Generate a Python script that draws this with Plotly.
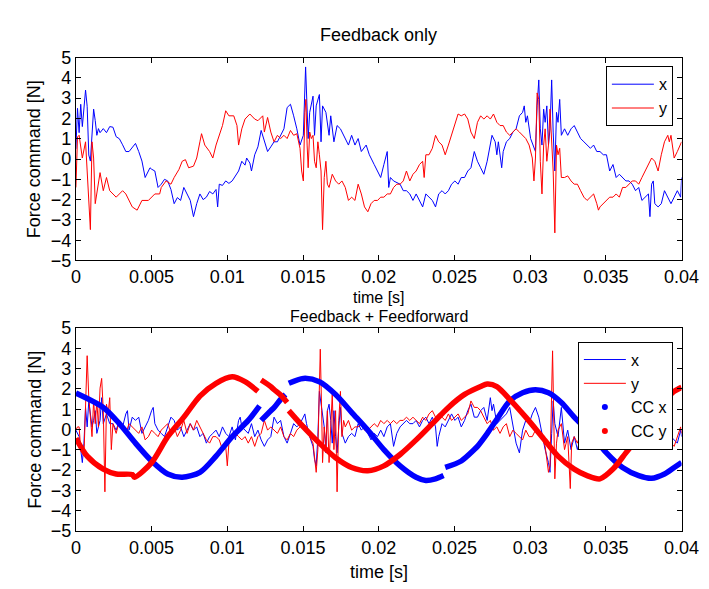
import plotly.graph_objects as go

# ---------------- data (time in ms, force in N) ----------------
TOP_X_T = [0, 0.106, 0.213, 0.319, 0.426, 0.638, 0.745, 0.851, 0.957, 1.064,
           1.170, 1.277, 1.383, 1.489, 1.596, 1.809, 2.021, 2.234, 2.447, 2.660,
           2.872, 3.085, 3.298, 3.511, 3.723, 3.936, 4.149, 4.362, 4.574, 4.787,
           4.894, 5.0, 5.213, 5.426, 5.638, 5.851, 6.064, 6.277, 6.489, 6.702,
           6.915, 7.128, 7.340, 7.553, 7.766, 7.979, 8.191, 8.404, 8.617, 8.830,
           9.043, 9.255, 9.362, 9.468, 9.681, 9.894, 10.106, 10.319, 10.745, 10.957,
           11.170, 11.277, 11.489, 11.596, 11.809, 12.021, 12.234, 12.447, 12.660, 12.872,
           13.085, 13.31, 13.52, 13.74, 13.95, 14.17, 14.38, 14.59, 14.80, 15.02,
           15.17, 15.23, 15.34, 15.44, 15.66, 15.76, 15.87, 16.08, 16.19, 16.29,
           16.51, 16.72, 16.83, 17.04, 17.25, 17.47, 17.68, 18.00, 18.21, 18.43,
           18.64, 18.85, 19.17, 19.38, 19.70, 19.92, 20.13, 20.34, 20.56, 20.66,
           20.77, 20.98, 21.41, 21.62, 21.83, 22.05, 22.26, 22.47, 22.69, 22.90,
           23.11, 23.32, 23.54, 23.75, 23.96, 24.18, 24.39, 24.60, 24.81, 25.03,
           25.24, 25.45, 25.67, 25.88, 26.09, 26.31, 26.52, 26.73, 26.94, 27.16,
           27.37, 27.48, 27.69, 27.80, 27.90, 28.12, 28.22, 28.43, 28.65, 28.86,
           29.07, 29.29, 29.50, 29.61, 29.71, 29.82, 30.03, 30.25, 30.35, 30.46,
           30.57, 30.67, 30.78, 30.89, 30.99, 31.10, 31.21, 31.31, 31.42, 31.52,
           31.63, 31.74, 31.84, 31.95, 32.06, 32.27, 32.48, 32.70, 32.91, 33.12,
           33.33, 33.55, 33.76, 33.98, 34.19, 34.40, 34.61, 34.83, 35.04, 35.25,
           35.47, 35.68, 35.89, 36.10, 36.32, 36.53, 36.74, 36.96, 37.17, 37.38,
           37.60, 37.81, 37.91, 38.02, 38.13, 38.23, 38.45, 38.66, 38.87, 39.09,
           39.30, 39.51, 39.72, 39.94, 40.0]
TOP_X_V = [0.5, 2.5, 1.3, 2.7, 1.6, 3.4, 2.6, 0.2, -0.1, 1.3,
           2.46, 1.9, 1.17, 1.5, 1.3, 1.5, 1.3, 1.6, 1.57, 1.1,
           1.0, 0.7, 0.37, 0.37, 0.6, 0.77, 0.37, -0.1, -0.91, -0.6,
           -0.43, -0.5, -0.59, -1.40, -1.24, -1.0, -1.08, -1.5, -2.20, -1.9,
           -2.04, -1.40, -1.7, -2.04, -2.84, -2.2, -1.72, -2.0, -1.88, -1.6,
           -1.72, -1.5, -2.36, -1.24, -1.3, -1.08, -1.2, -1.08, -0.59, -0.11,
           -0.3, 0.05, -0.2, -0.59, 0.21, 0.6, 1.41, 0.9, 0.37, 0.6,
           0.85, 0.85, 1.17, 1.49, 2.54, 2.70, 2.13, 1.49, 0.69, 1.17,
           4.54, 3.42, 1.01, 2.30, 3.10, 1.17, 2.62, 3.18, 0.85, 2.62,
           2.30, 1.17, 2.13, 0.85, 1.65, 1.49, 1.17, 0.69, 1.17, 0.69,
           1.01, 0.37, 0.69, 0.21, -0.27, -0.59, -0.91, -0.27, 0.37, -1.40,
           -0.91, -1.08, -1.24, -1.56, -1.56, -1.72, -2.04, -1.72, -2.04, -2.36,
           -1.72, -1.88, -2.04, -2.36, -1.72, -1.56, -1.72, -1.56, -1.24, -1.08,
           -1.24, -0.91, -0.91, -0.59, -0.43, 0.37, -0.11, -0.43, -0.75, -0.11,
           0.69, 1.17, 0.85, 0.21, 0.85, -0.43, 0.37, 0.85, 1.01, 1.33,
           1.49, 2.13, 2.30, 2.62, 1.81, 2.13, 1.01, 0.53, 0.37, 2.62,
           3.90, 1.49, 0.69, 2.46, 1.81, 2.62, 0.69, 1.49, 3.90, 1.33,
           -0.59, 2.30, 1.81, 2.94, 1.17, 1.49, 1.17, 1.49, 1.65, 1.33,
           1.01, 0.85, 0.69, 0.53, 0.69, 0.37, 0.37, 0.21, 0.21, -0.59,
           -0.27, -0.91, -0.75, -0.91, -1.08, -1.08, -1.24, -1.56, -1.40, -2.04,
           -1.88, -1.72, -2.84, -1.24, -1.08, -2.20, -2.36, -2.20, -1.56, -1.88,
           -2.20, -1.88, -1.56, -1.88, -0.91]

TOP_Y_T = [0, 0.106, 0.213, 0.426, 0.638, 0.851, 0.957, 1.064, 1.170, 1.277,
           1.489, 1.596, 1.809, 2.021, 2.234, 2.660, 3.085, 3.298, 3.723, 4.043,
           4.362, 4.787, 5.213, 5.532, 5.638, 5.957, 6.277, 6.489, 6.809, 7.021,
           7.234, 7.447, 7.766, 7.979, 8.191, 8.298, 8.511, 8.830, 9.043, 9.255,
           9.681, 9.894, 10.106, 10.426, 10.638, 10.745, 10.957, 11.170, 11.489, 11.809,
           12.021, 12.340, 12.447, 12.660, 12.872, 13.085, 13.31, 13.52, 13.74, 13.95,
           14.17, 14.38, 14.59, 14.80, 14.91, 15.02, 15.12, 15.19, 15.27, 15.34,
           15.44, 15.55, 15.66, 15.76, 15.87, 15.98, 16.08, 16.19, 16.29, 16.40,
           16.51, 16.61, 16.72, 16.93, 17.15, 17.36, 17.57, 17.79, 18.00, 18.21,
           18.43, 18.64, 18.85, 19.06, 19.28, 19.49, 19.70, 19.92, 20.13, 20.34,
           20.56, 20.77, 20.98, 21.19, 21.41, 21.62, 21.83, 22.05, 22.26, 22.47,
           22.69, 22.90, 23.00, 23.11, 23.32, 23.54, 23.75, 23.96, 24.18, 24.39,
           24.60, 24.81, 25.03, 25.24, 25.45, 25.67, 25.88, 26.09, 26.31, 26.52,
           26.73, 26.94, 27.16, 27.37, 27.58, 27.80, 28.01, 28.22, 28.43, 28.65,
           28.86, 29.07, 29.29, 29.50, 29.71, 29.93, 30.14, 30.25, 30.35, 30.46,
           30.57, 30.67, 30.78, 30.89, 30.99, 31.10, 31.21, 31.31, 31.42, 31.52,
           31.63, 31.74, 31.84, 31.95, 32.06, 32.27, 32.48, 32.70, 32.91, 33.12,
           33.33, 33.55, 33.76, 33.98, 34.19, 34.40, 34.51, 34.61, 34.83, 35.04,
           35.25, 35.47, 35.68, 35.89, 36.10, 36.32, 36.53, 36.74, 36.96, 37.17,
           37.38, 37.60, 37.81, 38.02, 38.23, 38.45, 38.66, 38.87, 39.09, 39.19,
           39.30, 39.51, 39.72, 39.94, 40.0]
TOP_Y_V = [-1.40, 1.09, 1.17, 0.05, 0.85, -2.20, -3.48, 0.85, 0.05, -2.20,
           -1.08, -0.67, -1.56, -0.91, -1.56, -1.88, -1.56, -1.72, -2.36, -2.52,
           -2.04, -2.04, -1.72, -1.72, -1.40, -1.08, -1.24, -0.91, -0.51, -0.11,
           -0.03, -0.43, -0.35, 0.05, 0.85, 1.25, 0.69, 0.37, 0.05, 0.69,
           1.65, 2.38, 2.13, 2.13, 1.65, 0.69, 1.49, 1.97, 2.22, 1.97,
           1.89, 2.13, 1.33, 2.05, 1.33, 0.85, 1.17, 1.01, 1.17, 1.01,
           1.41, 1.17, 1.25, 0.53, -0.59, -1.08, 2.30, 2.94, 0.69, -0.43,
           1.33, 1.01, 1.17, -0.11, -0.43, 0.85, 0.21, -0.59, -3.48, -0.91,
           -0.11, -1.24, -1.40, -0.75, -1.08, -1.24, -1.08, -1.40, -2.04, -1.88,
           -2.04, -1.24, -1.72, -2.36, -2.60, -2.20, -2.04, -2.04, -1.88, -1.88,
           -1.72, -1.72, -1.40, -1.24, -1.24, -1.08, -0.59, -1.08, -0.75, -0.59,
           -0.27, -0.11, -0.91, 0.21, 0.21, 0.53, 1.17, 0.85, 0.69, 0.21,
           0.69, 1.17, 1.65, 2.22, 2.13, 2.22, 1.97, 1.33, 1.01, 1.81,
           2.13, 1.97, 2.13, 1.97, 2.22, 1.81, 1.65, 1.65, 1.33, 1.17,
           1.33, 1.49, 1.33, 1.17, 1.01, 0.69, 0.05, -1.08, 0.05, 3.26,
           2.94, -0.11, -1.72, 0.69, 1.49, -0.11, 0.69, 2.46, 0.69, -0.59,
           -3.64, 0.69, 0.21, 0.53, -0.91, -0.91, -0.83, -1.08, -1.24, -1.24,
           -1.56, -1.88, -2.04, -1.88, -1.72, -2.20, -2.52, -2.36, -2.20, -2.04,
           -1.88, -1.88, -1.72, -1.88, -1.40, -1.40, -1.24, -1.08, -1.08, -1.24,
           -0.91, -0.59, -0.27, 0.05, -0.11, -0.59, 0.21, 0.85, 1.17, 0.85,
           1.17, 0.05, 0.37, 0.69, 0.85]

BOT_X_T = [0, 0.213, 0.426, 0.532, 0.638, 0.745, 0.851, 0.957, 1.064, 1.170,
           1.277, 1.383, 1.596, 1.702, 1.809, 2.021, 2.234, 2.447, 2.660, 2.872,
           3.085, 3.298, 3.404, 3.511, 3.723, 3.936, 4.149, 4.362, 4.574, 4.787,
           5.0, 5.106, 5.213, 5.426, 5.638, 5.851, 6.064, 6.277, 6.489, 6.702,
           6.915, 7.128, 7.340, 7.553, 7.766, 7.979, 8.191, 8.404, 8.617, 8.830,
           9.043, 9.255, 9.468, 9.681, 9.894, 10.106, 10.319, 10.532, 10.745, 10.851,
           10.957, 11.170, 11.383, 11.596, 11.809, 12.021, 12.234, 12.447, 12.660, 12.872,
           13.085, 13.31, 13.52, 13.74, 13.95, 14.17, 14.38, 14.59, 14.80, 15.02,
           15.12, 15.23, 15.44, 15.66, 15.76, 15.87, 15.98, 16.08, 16.19, 16.29,
           16.40, 16.51, 16.61, 16.72, 16.83, 16.93, 17.04, 17.15, 17.25, 17.36,
           17.47, 17.57, 17.79, 18.00, 18.21, 18.43, 18.64, 18.85, 19.06, 19.28,
           19.49, 19.70, 19.92, 20.13, 20.34, 20.56, 20.77, 20.98, 21.19, 21.41,
           21.62, 21.83, 22.05, 22.26, 22.47, 22.69, 22.90, 23.11, 23.32, 23.54,
           23.75, 23.86, 23.96, 24.18, 24.39, 24.60, 24.81, 25.03, 25.24, 25.45,
           25.67, 25.88, 26.09, 26.31, 26.52, 26.73, 26.94, 27.16, 27.37, 27.48,
           27.58, 27.80, 28.01, 28.22, 28.43, 28.65, 28.86, 29.07, 29.29, 29.50,
           29.71, 29.93, 30.14, 30.35, 30.57, 30.78, 30.99, 31.21, 31.31, 31.42,
           31.52, 31.63, 31.84, 32.06, 32.27, 32.48, 32.70, 32.91, 33.12, 33.33,
           33.55, 33.76, 33.98, 34.19, 34.40, 34.61, 34.83, 35.04, 35.25, 35.47,
           35.68, 35.89, 36.10, 36.32, 36.53, 36.74, 36.96, 37.17, 37.38, 37.60,
           37.81, 38.02, 38.23, 38.45, 38.66, 38.87, 39.09, 39.30, 39.51, 39.72,
           39.94, 40.0]
BOT_X_V = [-0.03, -0.35, -1.63, -0.67, 1.09, 0.13, 1.41, 0.61, 0.13, 0.45,
           0.93, -0.19, 0.45, 1.57, 0.29, 0.77, 0.29, 0.29, -0.03, 0.45,
           0.13, 0.77, 0.93, -0.03, 0.61, 0.45, 0.61, -0.19, 0.13, 0.45,
           0.93, 1.09, 0.29, -0.03, -0.19, -0.35, 0.13, 0.61, 0.45, -0.03,
           0.13, -0.35, -0.03, 0.29, -0.03, 0.13, -0.35, -0.19, -0.67, -0.35,
           -0.19, -0.03, -0.35, 0.13, -0.19, -0.35, 0.13, -0.51, 0.45, 0.61,
           0.13, -0.03, -0.19, 0.29, -0.35, -0.03, -0.51, -0.83, -0.51, -0.35,
           0.61, 0.29, 0.45, -0.35, -0.67, -0.19, 0.29, 0.13, 0.29, 0.61,
           0.77, 0.29, -0.35, -0.83, -1.47, -1.79, -0.35, 1.88, 1.25, 0.93,
           0.13, -1.15, 0.93, 1.25, 0.45, -0.67, 0.93, -0.35, -1.15, 0.13,
           1.09, -0.19, -0.67, -0.35, -0.19, -0.35, 0.29, -0.03, 0.13, -0.19,
           -0.51, -0.19, -0.35, -0.03, -0.35, 0.13, 0.29, -0.83, -0.19, 0.13,
           0.29, 0.45, 0.29, 0.29, 0.45, 0.13, 0.45, 0.61, 0.29, 0.61,
           0.13, -0.83, -0.35, 0.29, 0.13, 0.45, 0.77, 0.45, 0.61, 0.13,
           0.45, 0.93, 1.25, 0.61, 0.61, 0.93, 1.09, 0.45, 1.57, 0.93,
           1.25, 0.29, 0.45, 0.61, 0.77, 1.09, 0.13, -0.67, -1.15, -0.03,
           0.45, 0.29, 0.77, 1.09, 0.61, -0.19, -0.99, -1.63, -2.11, -0.19,
           1.41, 0.29, -0.35, 1.09, -0.67, -0.03, -0.99, -0.35, -0.99, -0.35,
           -0.03, -0.35, -0.19, -0.51, -0.19, -0.35, -0.51, -0.35, -0.19, -0.51,
           -0.35, -0.19, -0.19, -0.51, -0.35, -0.03, -0.35, -0.35, -0.19, -0.51,
           -0.35, -0.51, -0.19, -0.67, -0.35, -0.19, -0.51, -0.35, -0.51, -0.67,
           -0.03, -0.35]

BOT_Y_T = [0, 0.106, 0.213, 0.319, 0.532, 0.638, 0.745, 0.851, 0.957, 1.064,
           1.170, 1.277, 1.383, 1.489, 1.596, 1.702, 1.809, 1.915, 2.021, 2.128,
           2.234, 2.340, 2.447, 2.660, 2.872, 3.085, 3.298, 3.511, 3.723, 3.936,
           4.149, 4.362, 4.574, 4.787, 5.0, 5.213, 5.426, 5.638, 5.851, 6.064,
           6.277, 6.489, 6.702, 6.915, 7.128, 7.340, 7.553, 7.766, 7.979, 8.191,
           8.404, 8.617, 8.830, 9.043, 9.255, 9.468, 9.681, 9.894, 10.0, 10.106,
           10.319, 10.532, 10.745, 10.957, 11.170, 11.383, 11.596, 11.809, 12.021, 12.234,
           12.447, 12.660, 12.872, 13.085, 13.31, 13.52, 13.74, 13.95, 14.17, 14.38,
           14.59, 14.80, 15.02, 15.23, 15.44, 15.66, 15.87, 15.98, 16.08, 16.14,
           16.23, 16.29, 16.40, 16.51, 16.61, 16.72, 16.83, 16.93, 17.04, 17.15,
           17.25, 17.36, 17.47, 17.57, 17.68, 17.79, 18.00, 18.21, 18.43, 18.64,
           18.85, 19.06, 19.28, 19.49, 19.70, 19.92, 20.13, 20.34, 20.56, 20.77,
           20.98, 21.19, 21.41, 21.62, 21.83, 22.05, 22.26, 22.47, 22.69, 22.90,
           23.11, 23.32, 23.54, 23.75, 23.96, 24.18, 24.39, 24.60, 24.81, 25.03,
           25.24, 25.45, 25.67, 25.88, 26.09, 26.31, 26.52, 26.73, 26.94, 27.16,
           27.37, 27.58, 27.80, 28.01, 28.22, 28.43, 28.65, 28.86, 29.07, 29.29,
           29.50, 29.71, 29.93, 30.14, 30.35, 30.57, 30.78, 30.99, 31.10, 31.21,
           31.31, 31.42, 31.48, 31.57, 31.63, 31.74, 31.84, 32.06, 32.27, 32.48,
           32.59, 32.65, 32.74, 32.91, 33.12, 33.33, 33.76, 34.19, 34.61, 35.04,
           35.47, 35.89, 36.32, 36.74, 37.17, 37.60, 38.02, 38.45, 38.87, 39.30,
           39.51, 39.72, 39.94, 40.0]
BOT_Y_V = [-0.03, 0.13, 0.13, -0.99, -1.31, 0.93, 3.64, 1.57, 0.77, -0.35,
           1.41, 0.29, 1.41, 0.13, 2.04, 2.52, 0.93, -3.07, 1.25, 0.77,
           1.57, -0.99, 0.29, -0.19, 0.45, 0.13, -0.19, 0.29, 0.13, -0.03,
           -0.19, 0.13, -0.51, -0.35, -0.03, -0.19, -0.35, -0.03, 0.13, 0.29,
           -0.19, 0.13, -0.35, -0.03, 0.45, -0.19, 0.29, -0.03, 0.45, 0.13,
           -0.19, -0.51, -0.67, -0.35, -0.35, -0.51, -0.99, -0.83, -1.79, -0.67,
           -0.35, -0.19, -0.35, -0.51, -0.35, -0.67, -0.35, -0.83, -0.35, -0.19,
           0.45, -0.03, 0.13, -0.03, -0.19, 0.13, -0.35, -0.51, -0.19, -0.35,
           -0.03, 0.13, 0.29, 0.13, -0.35, -0.67, -2.11, -0.99, 2.20, 3.96,
           0.93, -1.63, 0.13, -0.83, 0.93, -1.63, 0.13, 1.73, -0.99, 0.93,
           -3.07, 0.45, 1.88, -0.35, 0.45, 0.13, 0.45, -0.03, 0.13, 0.13,
           0.29, -0.03, -0.03, 0.13, 0.29, 0.13, 0.45, 0.29, 0.45, 0.29,
           0.45, 0.29, 0.45, 0.45, 0.61, 0.45, 0.61, 0.45, 0.29, 0.61,
           0.45, 0.77, 0.93, 0.61, 0.77, 0.61, 0.45, 0.77, 0.45, 0.61,
           0.77, 0.45, 0.61, 0.77, 1.41, 1.09, 1.09, 0.93, 0.61, 0.29,
           0.45, -0.03, 0.13, -0.19, 0.13, 0.29, -0.35, -0.03, -0.19, -0.35,
           -0.51, -0.03, -0.35, -0.35, -0.03, -0.19, -0.35, -0.83, -1.63, -2.11,
           -1.79, 1.73, 3.88, 0.13, -2.43, -0.67, -0.03, 0.29, -0.99, -0.35,
           -1.79, -2.91, -0.67, -0.35, -0.67, -0.19, -0.35, -0.51, -0.35, -0.19,
           -0.35, -0.51, -0.35, -0.51, -0.19, -0.35, -0.19, -0.35, -0.51, -0.67,
           -0.83, -0.35, 0.13, -0.19]

# computed-command (CC) feedforward signals; None separates segments
CC_X_T = [0, 1.809, 2.872, 3.936, 5.0, 6.064, 7.021, 8.191, 9.255, 10.319, 11.383, 12.128, None,
          12.234, 12.872, 13.10, 13.52, 13.84, None,
          14.06, 15.02, 16.08, 17.15, 18.21, 19.28, 20.34, 21.41, 22.47, 23.11, 23.75, 24.28, None,
          24.39, 25.45, 26.31, 26.52, 27.16, 27.80, 28.65, 29.50, 30.35, 31.21, 32.06, 32.91,
          33.98, 35.04, 36.10, 37.17, 38.02, 38.87, 39.51, 40.0]
CC_X_V = [1.80, 1.09, 0.29, -0.67, -1.55, -2.19, -2.35, -2.11, -1.31, -0.35, 0.45, 1.17, None,
          0.45, 0.93, 1.09, 1.49, 1.73, None,
          2.28, 2.52, 2.36, 1.73, 0.85, -0.03, -0.99, -1.79, -2.35, -2.51, -2.43, -2.27, None,
          -1.87, -1.55, -0.99, -0.83, -0.20, 0.50, 1.41, 1.81, 1.96, 1.81, 1.33, 0.61,
          -0.19, -1.15, -1.87, -2.27, -2.40, -2.19, -1.87, -1.63]

CC_Y_T = [0, 0.745, 1.809, 2.660, 3.723, 3.872, 5.0, 6.064, 7.128, 8.191, 9.255, 10.319, 11.170, 12.021, None,
          12.234, 12.872, 13.10, 13.52, 13.95, None,
          14.06, 15.02, 16.08, 17.15, 18.21, 19.28, 20.34, 21.41, 22.47, 23.54, 24.60, 25.67, 26.73,
          27.16, 27.80, 28.65, 29.71, 30.78, 31.84, 32.91, 33.76, 34.61, 35.47, 36.32, 37.17,
          38.02, 38.87, 39.51, 40.0]
CC_Y_V = [-0.43, -1.31, -1.95, -2.19, -2.22, -2.35, -1.63, -0.35, 0.61, 1.65, 2.28, 2.60, 2.36, 1.88, None,
          2.44, 2.12, 1.96, 1.70, 1.33, None,
          0.93, 0.13, -0.67, -1.39, -1.87, -2.03, -1.79, -1.23, -0.51, 0.29, 1.09, 1.73, 2.12,
          2.24, 2.12, 1.49, 0.61, -0.35, -1.31, -1.95, -2.27, -2.43, -1.95, -1.15, -0.35,
          0.61, 1.41, 1.88, 2.08]

X_TICKS = [0, 0.005, 0.01, 0.015, 0.02, 0.025, 0.03, 0.035, 0.04]
X_TICK_TEXT = ["0", "0.005", "0.01", "0.015", "0.02", "0.025", "0.03", "0.035", "0.04"]
Y_TICKS = [-5, -4, -3, -2, -1, 0, 1, 2, 3, 4, 5]

BLUE = "#0000FF"
RED = "#FF0000"
FONT = "Liberation Sans, Arial, sans-serif"
FS = 18
LFS = 16


def sec(ms_list):
    return [None if v is None else v / 1000.0 for v in ms_list]


W, H = 709, 589
fig = go.Figure()

# top panel
fig.add_trace(go.Scatter(x=sec(TOP_X_T), y=TOP_X_V, mode="lines", name="x",
                         line=dict(color=BLUE, width=1), xaxis="x", yaxis="y", legend="legend"))
fig.add_trace(go.Scatter(x=sec(TOP_Y_T), y=TOP_Y_V, mode="lines", name="y",
                         line=dict(color=RED, width=1), xaxis="x", yaxis="y", legend="legend"))

# bottom panel
fig.add_trace(go.Scatter(x=sec(BOT_X_T), y=BOT_X_V, mode="lines", name="x",
                         line=dict(color=BLUE, width=1), xaxis="x2", yaxis="y2", legend="legend2"))
fig.add_trace(go.Scatter(x=sec(BOT_Y_T), y=BOT_Y_V, mode="lines", name="y",
                         line=dict(color=RED, width=1), xaxis="x2", yaxis="y2", legend="legend2"))
fig.add_trace(go.Scatter(x=sec(CC_X_T), y=CC_X_V, mode="lines", name="CC x", showlegend=False,
                         line=dict(color=BLUE, width=5.5, shape="spline", smoothing=0.8),
                         connectgaps=False, xaxis="x2", yaxis="y2"))
fig.add_trace(go.Scatter(x=sec(CC_Y_T), y=CC_Y_V, mode="lines", name="CC y", showlegend=False,
                         line=dict(color=RED, width=5.5, shape="spline", smoothing=0.8),
                         connectgaps=False, xaxis="x2", yaxis="y2"))
# legend entries for the CC dot series
fig.add_trace(go.Scatter(x=[None], y=[None], mode="markers", name="CC x",
                         marker=dict(color=BLUE, size=6), xaxis="x2", yaxis="y2", legend="legend2"))
fig.add_trace(go.Scatter(x=[None], y=[None], mode="markers", name="CC y",
                         marker=dict(color=RED, size=6), xaxis="x2", yaxis="y2", legend="legend2"))

x0, x1 = 65 / W, 691 / W
top_dom = [1 - 251 / H, 1 - 41 / H]
bot_dom = [1 - 531 / H, 1 - 321 / H]

axis_common = dict(showline=True, linecolor="black", linewidth=1, mirror="ticks",
                   ticks="inside", ticklen=5, tickcolor="black", showgrid=False, zeroline=False,
                   tickfont=dict(family=FONT, size=FS, color="black"))

fig.update_layout(
    width=W, height=H, margin=dict(l=0, r=0, t=0, b=0),
    paper_bgcolor="white", plot_bgcolor="white",
    font=dict(family=FONT, size=FS, color="black"),
    xaxis=dict(domain=[x0, x1], range=[0, 0.04], tickvals=X_TICKS, ticktext=X_TICK_TEXT,
               anchor="y", **axis_common),
    yaxis=dict(domain=top_dom, range=[-5, 5], tickvals=Y_TICKS, anchor="x", **axis_common),
    xaxis2=dict(domain=[x0, x1], range=[0, 0.04], tickvals=X_TICKS, ticktext=X_TICK_TEXT,
                anchor="y2", **axis_common),
    yaxis2=dict(domain=bot_dom, range=[-5, 5], tickvals=Y_TICKS, anchor="x2", **axis_common),
    legend=dict(x=682 / W, y=1 - 50 / H, xanchor="right", yanchor="top", itemwidth=42,
                bgcolor="white", bordercolor="black", borderwidth=1,
                font=dict(family=FONT, size=LFS, color="black")),
    legend2=dict(x=682 / W, y=1 - 335 / H, xanchor="right", yanchor="top", itemwidth=42,
                 bgcolor="white", bordercolor="black", borderwidth=1,
                 font=dict(family=FONT, size=LFS, color="black")),
    showlegend=True,
)

ann = dict(xref="paper", yref="paper", showarrow=False)
f_small = dict(family=FONT, size=16, color="black")
f_norm = dict(family=FONT, size=FS, color="black")
fig.add_annotation(text="Feedback only", x=378 / W, y=1 - 18 / H, xanchor="center", yanchor="middle",
                   font=f_norm, **ann)
fig.add_annotation(text="time [s]", x=378 / W, y=1 - 289 / H, xanchor="center", yanchor="middle",
                   font=f_small, **ann)
fig.add_annotation(text="Feedback + Feedforward", x=378 / W, y=1 - 309 / H, xanchor="center",
                   yanchor="middle", font=f_small, **ann)
fig.add_annotation(text="time [s]", x=378 / W, y=1 - 573 / H, xanchor="center", yanchor="middle",
                   font=f_norm, **ann)
fig.add_annotation(text="Force command [N]", x=22 / W, y=1 - 146 / H, xanchor="center", yanchor="middle",
                   textangle=-90, font=f_norm, **ann)
fig.add_annotation(text="Force command [N]", x=22 / W, y=1 - 426 / H, xanchor="center", yanchor="middle",
                   textangle=-90, font=f_norm, **ann)

fig.write_html("out.html")
